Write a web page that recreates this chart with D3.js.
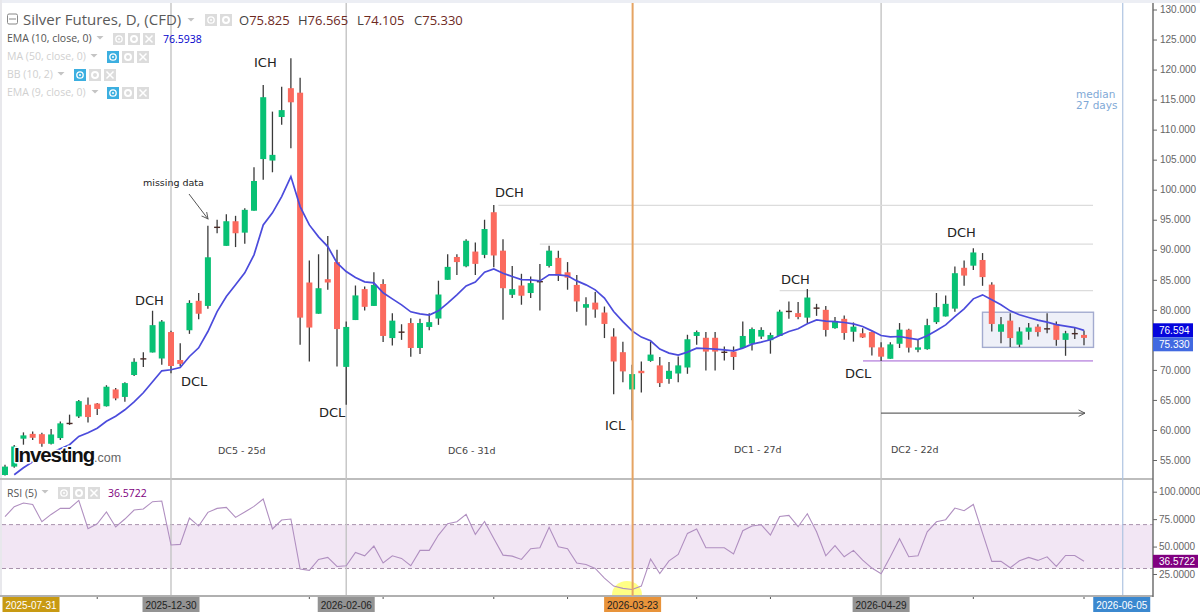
<!DOCTYPE html>
<html>
<head>
<meta charset="utf-8">
<script src="https://cdn.jsdelivr.net/npm/d3@7/dist/d3.min.js"></script>
<style>
  html, body { margin: 0; padding: 0; background: #fff; overflow: hidden; }
</style>
</head>
<body>
<svg id="chart"></svg>
<script>
// daily candles
var opens = [52.5,53.9,58.55,59.35,59.3,57.7,58.65,61.2,62.25,64.2,
  64.4,63.95,66.75,65.5,69.15,71.95,72.9,71.9,76.3,71.65,
  76.6,81.5,80.65,93.85,90.65,94.75,92.85,96.5,105.1,104.85,
  112.1,116.9,116.15,84.55,79.35,85.1,87.95,70.5,78.3,83.45,
  80.65,84.3,75.3,76.4,77.8,73.65,77.15,78.55,85,88.8,
  87.25,89.7,89.15,96.25,89.85,82.5,84.05,82.8,84.8,87.3,
  88.65,86.25,84.15,80.35,81.2,79.55,75.55,72.95,66.75,69.85,
  71.5,70.75,68.5,69.4,70.4,75.65,75.35,75.35,73.05,73.05,
  73.65,74.35,75.55,74.95,75.65,79.85,79.45,78.7,80.4,80,
  76.95,78.5,76.35,76.1,76.3,73.75,71.85,74.35,76.7,73.35,
  73.45,77.95,78.9,80.2,87,87.35,88.3,84.2,76.35,78.2,
  74.2,76.35,77.2,76.95,77.65,75,76.15,75.825];
var highs = [54.2,57.5,59.6,59.75,59.55,60.15,61.4,62.55,65,65.4,
  64.5,67.45,67,67.95,71.95,72.95,79.85,78.3,76.5,74.45,
  81.6,82.8,94,95,95.9,95.65,96.9,103.75,117.45,113,
  117.15,121.9,118.65,88.2,89.25,92.3,90,78.05,84.05,83.9,
  86.25,85.1,79.45,77.6,78.6,78.5,79.45,84.85,89.25,89.25,
  91.75,91.2,95,97.45,91.75,87.3,86,85.55,87.65,90.65,
  89.85,87.95,85.8,82.1,82.95,80.55,76.95,74.7,70.85,71.4,
  74.7,72.15,71.3,72.25,75.85,76.55,76.3,76.3,73.9,73.9,
  78.05,77.05,77.1,76.2,80,81.4,81.3,83.45,81,80.65,
  78.8,79.05,77.9,76.95,76.4,74.6,74.6,77.8,76.85,75,
  78.5,82.8,82.4,87.2,88.2,90.25,89.45,84.6,78.8,79.45,
  77.1,77.8,77.6,79.45,78.05,76.5,77.1,76.565];
var lows = [52.4,53.7,57.55,58.35,57.2,57.6,58.35,60.85,62,61.25,
  62.5,63.9,64.95,64.7,69,70.5,72.9,70.85,69.45,70.55,
  76,78.45,80.2,92.75,90.65,90.45,91,96.5,101.65,102.9,
  110.8,106.9,74.2,71.4,79.35,83.35,70.55,64.2,78.3,79.9,
  80.65,74.65,74.05,75,72.2,72.65,76.6,77.5,85,85.8,
  87.1,85.8,88.6,87.1,78.35,81.95,80.85,81.95,79.9,87.05,
  84.8,83.35,79.7,77.4,78.7,75.3,65.95,67.95,61.6,66.25,
  71.35,67.15,67.7,67.95,69.35,74.2,69.9,69.9,71.55,70,
  73.65,73.25,75.15,72.7,75.65,78.5,78.45,77.8,79,75.55,
  76.85,75,74.7,75.3,72.4,71.5,71.85,73.65,72.9,72.95,
  73.35,77.65,78.9,79.7,84,86.65,84,76.4,74.45,73.8,
  73.8,75,75.55,76.1,74,72.35,75.15,74.105];
var closes = [53.9,57.25,59.1,58.7,57.7,59.25,61.1,61.2,64.8,62.15,
  63.5,67.2,65.25,67.8,71.35,71.95,77.45,78.05,70.65,71,
  81.15,79.35,88.75,93.85,94.75,92.75,96.65,101.45,115.4,105.8,
  113.25,114.55,78.7,77.05,83.6,84.55,76.8,77.15,82.4,80.5,
  84.15,75.65,78.2,76.4,73.65,77.8,77.95,82.55,87.15,87.95,
  91.5,87.65,93.45,89.05,83.6,83.45,82.35,84.45,84.8,89.85,
  85.7,85.35,81.4,80.95,80.05,77.65,71.4,69.75,69.3,69.45,
  72.55,67.8,69.85,70.75,75.1,76.3,73.05,73.05,73.05,72.15,
  75.65,76.8,76.65,75.8,79.7,79.85,78.8,82.05,80.4,76.65,
  78.15,76.15,77.2,75.4,73.75,72.2,74.25,76.7,73.7,73.75,
  77.45,80.45,81,86.1,85.7,89.55,85.45,77.65,77.6,75.3,
  76.4,77.05,76.3,76.95,75,76.1,76.15,75.33];

var ema10 = [null,52.55,53.71,54.71,55.29,56.2,56.87,57.54,58.92,59.53,
  60.28,61.45,62.28,63.36,64.69,66.19,68.02,69.85,70.02,70.4,
  72.23,73.68,76.39,79.71,82.21,84.16,86.16,89.15,94.14,96.14,
  98.85,102.18,97.19,94.14,92.15,90.53,87.82,86.37,85.37,84.66,
  84.49,82.83,81.83,80.83,79.67,79.33,79.12,79.83,81.11,82.49,
  83.99,84.61,86.27,86.82,86.1,85.54,85.04,84.99,84.82,85.82,
  85.82,85.66,84.82,84.16,83.33,81.95,79.71,78.05,76.5,75.46,
  74.84,73.46,72.79,72.46,72.96,73.63,73.56,73.46,73.34,73.18,
  73.63,74.29,74.62,75.01,75.72,76.39,76.84,77.67,78.33,78.12,
  78.05,77.89,77.67,77.22,76.5,75.72,75.5,75.56,75.29,75.06,
  75.67,76.55,77.5,78.88,80.16,81.83,82.49,81.66,80.83,79.83,
  79.17,78.72,78.29,77.95,77.55,77.29,77.05,76.59];

var rsi5 = [77.2,86.3,89.7,88.4,72.6,79.3,84.8,84.8,92.1,66.3,
  70.8,81.5,67.8,75.1,83.3,84.2,90.9,91.5,51.4,52,
  76,68.7,81.2,84.8,85.7,76.6,81.5,86.6,93.3,66,
  74.2,75.1,29.5,28.3,38.3,40.1,31.9,32.5,44.7,41.6,
  50.5,35,41.6,39.2,32.5,46.5,46.5,60.5,70.8,72.6,
  79.3,61.1,72.9,57.4,42.2,41.3,38.3,48,48.9,67.5,
  49.8,48,35,33.7,30.1,21.3,14,11.9,10.9,14,
  38.6,25.5,37,42.9,62,66,48.9,48.9,48.9,43.2,
  64.4,68.7,69.9,60.5,77.5,78.4,68.1,79.9,63.5,41.6,
  50.8,40.7,46.5,37.7,30.4,25.2,40.7,57.1,40.7,41.6,
  63.5,72.6,74.5,85.1,82.7,88.4,62.3,36.5,36.5,30.7,
  37,40.1,37.4,40.7,31.9,41.9,41.9,36.57];

var priceTicks = [55,60,65,70,80,85,90,95,100,105,110,115,120,125,130];
var rsiTicks = [25,50,75,100];
var minorDateTicks = [10,33,41,53,61,75,83,105,117];
var cycleDates = ["2025-12-30","2026-02-06","2026-04-29"];
var cycleIdx = [18,37,95];
var icIdx = 68, medianIdx = 121.2;
var resistance = [97.4,90.95,83.2];
var resistanceFrom = [53.5,58,84];
var supportLevel = 71.5;

var width = 1200, height = 612;
var svg = d3.select("#chart").attr("width", width).attr("height", height)
  .style("display", "block");
var defs = svg.append("defs");
defs.append("clipPath").attr("id", "mainClip").append("rect")
  .attr("x", 0).attr("y", 3).attr("width", 1153).attr("height", 475);
defs.append("marker").attr("id", "head").attr("viewBox", "0 0 10 10")
  .attr("refX", 9).attr("refY", 5).attr("markerWidth", 8).attr("markerHeight", 8)
  .attr("markerUnits", "userSpaceOnUse").attr("orient", "auto")
  .append("path").attr("d", "M1,1L9,5L1,9").attr("fill", "none")
  .attr("stroke", "#555").attr("stroke-width", 1.2);

var x = d3.scaleLinear().domain([0, 117]).range([5, 1084]);
var y = d3.scaleLinear().domain([55, 130]).range([460, 9.5]);
var yRsi = d3.scaleLinear().domain([25, 100]).range([574, 491.7]);
var axisX = 1153;

// frame
svg.append("rect").attr("x", 0).attr("y", 0).attr("width", width).attr("height", 3).attr("fill", "#eceef4");
svg.append("rect").attr("x", 0).attr("y", 0).attr("width", 2).attr("height", 596).attr("fill", "#e8e8ec");
svg.append("rect").attr("x", 0).attr("y", 478).attr("width", axisX).attr("height", 2).attr("fill", "#bdbdbd");

// rsi band goes under the vertical lines
svg.append("rect").attr("x", 2).attr("width", axisX - 2)
  .attr("y", yRsi(70)).attr("height", yRsi(30) - yRsi(70)).attr("fill", "#f2e6f4");
[70, 30].forEach(function(v) {
  svg.append("line").attr("x1", 2).attr("x2", axisX).attr("y1", yRsi(v)).attr("y2", yRsi(v))
    .attr("stroke", "#a892ac").attr("stroke-dasharray", "4,3");
});

// vertical cycle lines
cycleIdx.forEach(function(i) {
  svg.append("line").attr("x1", x(i)).attr("x2", x(i)).attr("y1", 3).attr("y2", 596)
    .attr("stroke", "#c4c4c4").attr("stroke-width", 1.4);
});
svg.append("line").attr("x1", x(medianIdx)).attr("x2", x(medianIdx)).attr("y1", 3).attr("y2", 596)
  .attr("stroke", "#adc3e2").attr("stroke-width", 1.2);

// consolidation box
svg.append("rect").attr("x", 982.5).attr("width", 111)
  .attr("y", y(79.6)).attr("height", y(73.75) - y(79.6))
  .attr("fill", "#eef0f8").attr("stroke", "#a3abcf").attr("stroke-width", 1.4);

// levels
resistance.forEach(function(v, k) {
  svg.append("line").attr("x1", x(resistanceFrom[k])).attr("x2", 1093).attr("y1", y(v)).attr("y2", y(v))
    .attr("stroke", "#dcdcdc").attr("stroke-width", 1.2);
});
svg.append("line").attr("x1", 863).attr("x2", 1093).attr("y1", y(supportLevel)).attr("y2", y(supportLevel))
  .attr("stroke", "#c9a2e6").attr("stroke-width", 1.6);

// candles
var candles = svg.append("g").attr("clip-path", "url(#mainClip)");
var idx = d3.range(closes.length);
var up = "#08c174", down = "#fb6a5e";
candles.selectAll(".wick").data(idx).enter().append("line")
  .attr("x1", function(i) { return x(i); }).attr("x2", function(i) { return x(i); })
  .attr("y1", function(i) { return y(highs[i]); }).attr("y2", function(i) { return y(lows[i]); })
  .attr("stroke", "#3a3a3a").attr("stroke-width", 1.3);
candles.selectAll(".body").data(idx).enter().append("rect")
  .attr("x", function(i) { return x(i) - 3; })
  .attr("width", 6)
  .attr("y", function(i) { return y(Math.max(opens[i], closes[i])); })
  .attr("height", function(i) { return Math.max(1.4, Math.abs(y(opens[i]) - y(closes[i]))); })
  .attr("fill", function(i) {
    if (opens[i] === closes[i]) return "#4a2a26";
    return closes[i] > opens[i] ? up : down;
  });

// ema on top
var emaLine = d3.line()
  .defined(function(d) { return d !== null; })
  .x(function(d, i) { return x(i); })
  .y(function(d) { return y(d); });
candles.append("path").datum(ema10).attr("d", emaLine)
  .attr("fill", "none").attr("stroke", "#4b4bdc").attr("stroke-width", 1.7);

// rsi, with the yellow spot at the low
svg.append("ellipse").attr("cx", 627).attr("cy", 595).attr("rx", 15).attr("ry", 14)
  .attr("fill", "#ffff85");
var rsiLine = d3.line().x(function(d, i) { return x(i); }).y(function(d) { return yRsi(d); });
svg.append("path").datum(rsi5).attr("d", rsiLine)
  .attr("fill", "none").attr("stroke", "#b08fc0").attr("stroke-width", 1.1);
// bottom edge and date strip cover the spot
svg.append("rect").attr("x", 0).attr("y", 597).attr("width", width).attr("height", 15).attr("fill", "#fff");
svg.append("rect").attr("x", 0).attr("y", 595).attr("width", axisX).attr("height", 2).attr("fill", "#b0b0b0");

// 2026-03-23 line sits over everything
svg.append("line").attr("x1", x(icIdx) + 0.5).attr("x2", x(icIdx) + 0.5).attr("y1", 3).attr("y2", 596)
  .attr("stroke", "#e5a463").attr("stroke-width", 2);

// axes
var axisFont = "'Liberation Sans', Arial, sans-serif";
var gPrice = svg.append("g").attr("transform", "translate(" + axisX + ",0)")
  .call(d3.axisRight(y).tickValues(priceTicks).tickFormat(d3.format(".3f")).tickSize(4).tickPadding(3));
var gRsi = svg.append("g").attr("transform", "translate(" + axisX + ",0)")
  .call(d3.axisRight(yRsi).tickValues(rsiTicks).tickFormat(d3.format(".4f")).tickSize(4).tickPadding(2));
[gPrice, gRsi].forEach(function(g) {
  g.select(".domain").remove();
  g.selectAll("line").attr("stroke", "#666");
  g.selectAll("text").attr("fill", "#666").style("font-family", axisFont).style("font-size", "10px");
});
svg.append("line").attr("x1", axisX).attr("x2", axisX).attr("y1", 3).attr("y2", 597)
  .attr("stroke", "#666").attr("stroke-width", 1.4);

function priceTag(top, label, bg, h, w) {
  svg.append("rect").attr("x", axisX).attr("y", top).attr("width", w).attr("height", h).attr("fill", bg);
  svg.append("text").attr("x", axisX + 6).attr("y", top + h / 2 + 3.5).text(label).attr("fill", "#fff")
    .style("font-family", axisFont).style("font-size", "10px");
}
// the 75.330 tag is pushed down so the two don't collide
var emaTagTop = y(76.594) - 7;
priceTag(emaTagTop, "76.594", "#0505dc", 14, 40);
priceTag(emaTagTop + 14, "75.330", "#4169e1", 14, 40);
priceTag(yRsi(36.5722) - 6.5, "36.5722", "#800080", 13, 45);

// dates along the bottom
svg.selectAll(".minor").data(minorDateTicks).enter().append("line")
  .attr("x1", function(i) { return x(i); }).attr("x2", function(i) { return x(i); })
  .attr("y1", 597).attr("y2", 599).attr("stroke", "#555");

function dateTag(cx, label, bg, fg) {
  svg.append("rect").attr("x", cx - 28.5).attr("y", 597).attr("width", 57).attr("height", 15).attr("fill", bg);
  svg.append("text").attr("x", cx).attr("y", 608.5).attr("text-anchor", "middle").text(label)
    .attr("fill", fg).style("font-family", axisFont).style("font-size", "10px");
}
dateTag(31, "2025-07-31", "#c89a12", "#fff");
cycleIdx.forEach(function(i, k) { dateTag(x(i), cycleDates[k], "#939393", "#222"); });
dateTag(x(icIdx) + 0.5, "2026-03-23", "#e8933a", "#222");
dateTag(x(medianIdx) - 1, "2026-06-05", "#3b88cf", "#fff");

// hand written notes
function note(label, nx, ny, size, color) {
  svg.append("text").attr("x", nx).attr("y", ny).text(label)
    .attr("fill", color || "#222").style("font-family", "'DejaVu Sans', sans-serif").style("font-size", size + "px");
}
note("ICH", 254, 67, 13);
note("DCH", 135, 305, 13);
note("DCL", 181, 386, 13);
note("DCL", 319, 417, 13);
note("DCH", 495, 197, 13);
note("ICL", 605, 430, 13);
note("DCH", 781, 284, 13);
note("DCL", 845, 378, 13);
note("DCH", 947, 237, 13);
note("missing data", 143, 186, 9.5);
note("DC5 - 25d", 218, 454, 9.5, "#444");
note("DC6 - 31d", 448, 454, 9.5, "#444");
note("DC1 - 27d", 734, 453, 9.5, "#444");
note("DC2 - 22d", 891, 453, 9.5, "#444");
note("median", 1076, 98, 10.5, "#7fa9d6");
note("27 days", 1076, 109, 10.5, "#7fa9d6");

svg.append("line").attr("x1", 189).attr("y1", 194).attr("x2", 208).attr("y2", 219)
  .attr("stroke", "#555").attr("marker-end", "url(#head)");
svg.append("line").attr("x1", 881).attr("y1", y(62.8)).attr("x2", 1085).attr("y2", y(62.8))
  .attr("stroke", "#666").attr("stroke-width", 1.2).attr("marker-end", "url(#head)");

// investing.com logo
var logo = svg.append("text").attr("x", 14).attr("y", 462)
  .style("font-family", axisFont).style("paint-order", "stroke")
  .attr("stroke", "#fff").attr("stroke-width", 3).attr("stroke-linejoin", "round");
logo.append("tspan").text("Investing").attr("fill", "#111")
  .style("font-weight", "bold").style("font-size", "20.5px").style("letter-spacing", "-1.1px");
logo.append("tspan").text(".com").attr("fill", "#666").style("font-size", "12.5px");

// legend rows
var uiFont = "'Open Sans', sans-serif";
function label(txt, lx, ly, size, color) {
  return svg.append("text").attr("x", lx).attr("y", ly).text(txt).attr("fill", color)
    .style("font-family", uiFont).style("font-size", size + "px");
}
function caret(cx, cy) {
  svg.append("path").attr("d", "M" + (cx - 3.5) + "," + (cy - 2) + "h7l-3.5,3.5z").attr("fill", "#c4c4c4");
}
function icon(ix, iy, kind, active) {
  var s = 12;
  svg.append("rect").attr("x", ix).attr("y", iy).attr("width", s).attr("height", s)
    .attr("fill", active ? "#3cafe0" : "#dcdcdc");
  if (kind === "eye") {
    svg.append("circle").attr("cx", ix + s / 2).attr("cy", iy + s / 2).attr("r", 3.2)
      .attr("fill", "none").attr("stroke", "#fff").attr("stroke-width", 1.3);
    svg.append("circle").attr("cx", ix + s / 2).attr("cy", iy + s / 2).attr("r", 1).attr("fill", "#fff");
  } else if (kind === "gear") {
    svg.append("circle").attr("cx", ix + s / 2).attr("cy", iy + s / 2).attr("r", 3)
      .attr("fill", "none").attr("stroke", "#fff").attr("stroke-width", 2);
  } else {
    svg.append("path").attr("d", "M" + (ix + 2.5) + "," + (iy + 2.5) + "l7,7m0,-7l-7,7")
      .attr("stroke", "#fff").attr("stroke-width", 1.5);
  }
}
function iconRow(ix, iy, active, noClose) {
  icon(ix, iy, "eye", active);
  icon(ix + 15, iy, "gear", false);
  if (!noClose) icon(ix + 30, iy, "x", false);
}

// header
svg.append("rect").attr("x", 7.5).attr("y", 14).attr("width", 10).attr("height", 10).attr("rx", 1.5)
  .attr("fill", "none").attr("stroke", "#888").attr("stroke-width", 1);
svg.append("line").attr("x1", 9).attr("x2", 16).attr("y1", 19).attr("y2", 19).attr("stroke", "#888");
label("Silver Futures, D, (CFD)", 23, 25, 15, "#5a5a5a");
caret(191, 20);
iconRow(205, 14, false, true);
var ohlcLabels = ["O", "H", "L", "C"];
var ohlcValues = ["75.825", "76.565", "74.105", "75.330"];
var ohlcX = [239, 298, 357, 414];
ohlcLabels.forEach(function(l, k) {
  var t = label(l, ohlcX[k], 25, 13, "#444");
  t.append("tspan").text(ohlcValues[k]).attr("fill", "#6e2a1f");
});

label("EMA (10, close, 0)", 7, 42, 10.5, "#555");
caret(100, 38);
iconRow(113, 33, false);
label("76.5938", 163, 43, 10.5, "#0000cc");
label("MA (50, close, 0)", 7, 60, 10.5, "#d0d0d0");
caret(94, 56);
iconRow(107, 51, true);
label("BB (10, 2)", 7, 78, 10.5, "#d0d0d0");
caret(61, 74);
iconRow(74, 69, true);
label("EMA (9, close, 0)", 7, 96, 10.5, "#d0d0d0");
caret(95, 92);
iconRow(107, 87, true);

label("RSI (5)", 7, 497, 10.5, "#555");
caret(45, 492);
iconRow(58, 487, false);
label("36.5722", 108, 497, 10.5, "#800080");
</script>
</body>
</html>
